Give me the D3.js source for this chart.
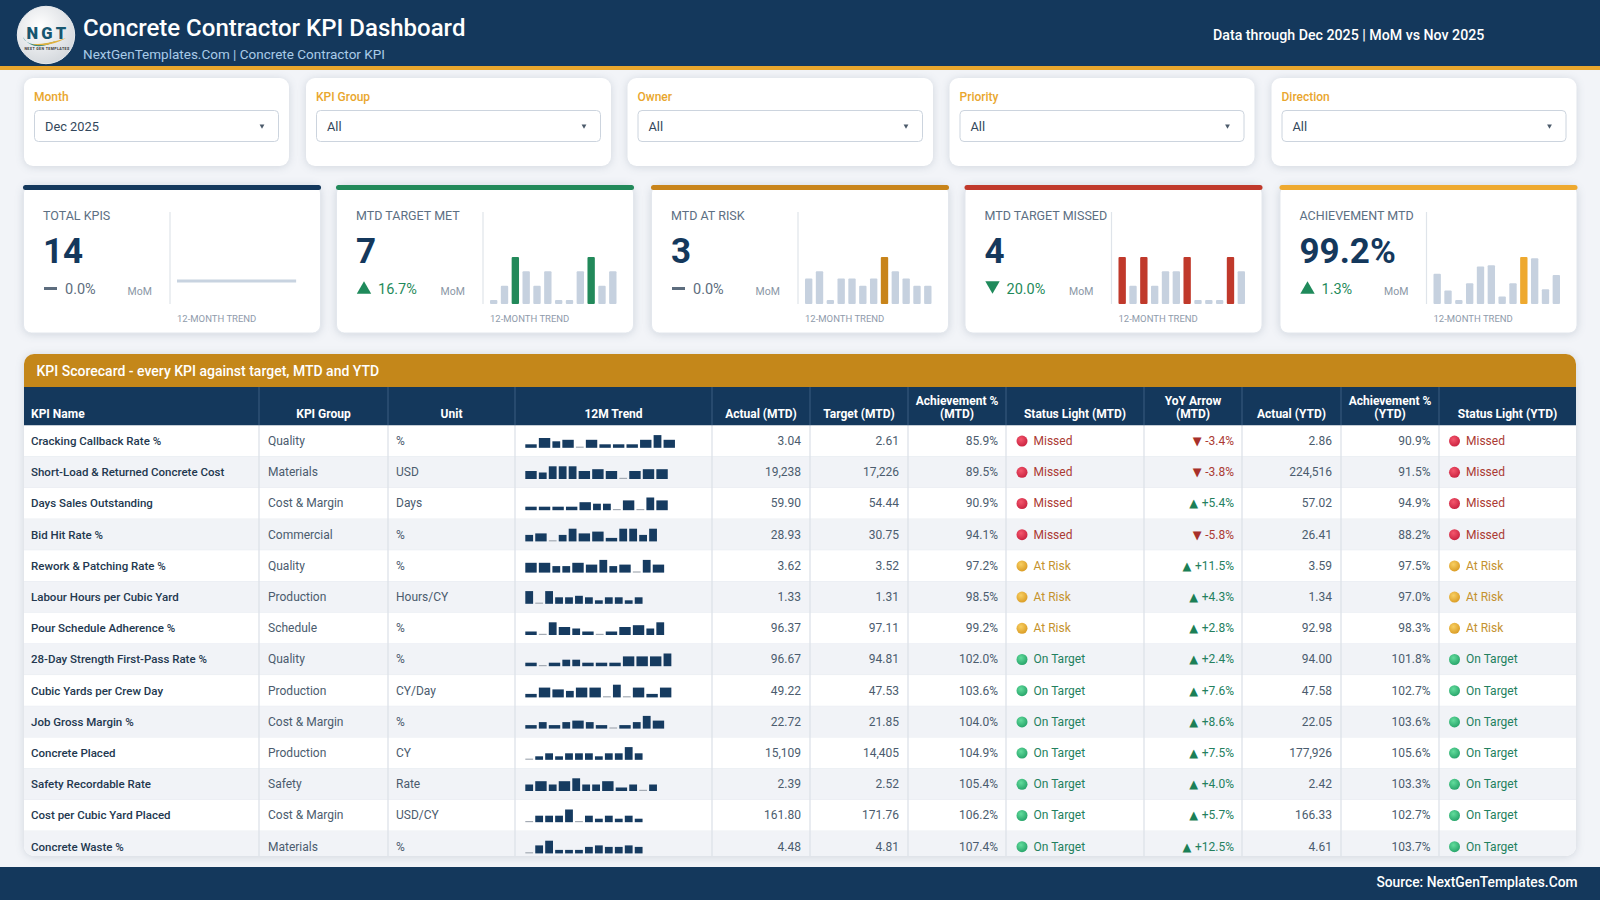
<!DOCTYPE html>
<html>
<head>
<meta charset="utf-8">
<style>
	html,body{ margin:0; padding:0; background:#f2f4f8; overflow:hidden; }
	svg{ display:block; font-family:Roboto,sans-serif; }
	.soft{ filter:drop-shadow(0 1px 4px rgba(40,60,90,.16)); }
</style>
</head>
<body>
<script src="https://d3js.org/d3.v7.min.js"></script>
<script>

// filters
var filterLabels = ["Month","KPI Group","Owner","Priority","Direction"];
var filterValues = ["Dec 2025","All","All","All","All"];

// kpi cards
var cardLabels = ["TOTAL KPIS","MTD TARGET MET","MTD AT RISK","MTD TARGET MISSED","ACHIEVEMENT MTD"];
var cardValues = ["14","7","3","4","99.2%"];
var cardDeltas = ["0.0%","16.7%","0.0%","20.0%","1.3%"];
var cardDirections = ["flat","up","flat","down","up"];
var totalTrend = [14,14,14,14,14,14,14,14,14,14,14,14];
var metTrend = [5,6,8,7,6,7,5,5,7,8,6,7];
var riskTrend = [4,5,1,4,4,3,4,7,5,4,3,3];
var missedTrend = [5,3,5,3,4,4,5,2,2,2,5,4];
var achievementTrend = [99.3,97.9,97.1,98.5,99.9,100.0,97.4,98.5,100.7,100.6,98.0,99.2];

// scorecard
var tableColumns = [["KPI Name"],["KPI Group"],["Unit"],["12M Trend"],["Actual (MTD)"],["Target (MTD)"],["Achievement %","(MTD)"],["Status Light (MTD)"],["YoY Arrow","(MTD)"],["Actual (YTD)"],["Achievement %","(YTD)"],["Status Light (YTD)"]];
var kpiNames = ["Cracking Callback Rate %","Short-Load & Returned Concrete Cost","Days Sales Outstanding","Bid Hit Rate %","Rework & Patching Rate %","Labour Hours per Cubic Yard","Pour Schedule Adherence %","28-Day Strength First-Pass Rate %","Cubic Yards per Crew Day","Job Gross Margin %","Concrete Placed","Safety Recordable Rate","Cost per Cubic Yard Placed","Concrete Waste %"];
var kpiGroups = ["Quality","Materials","Cost & Margin","Commercial","Quality","Production","Schedule","Quality","Production","Cost & Margin","Production","Safety","Cost & Margin","Materials"];
var kpiUnits = ["%","USD","Days","%","%","Hours/CY","%","%","CY/Day","%","CY","Rate","USD/CY","%"];
var actualMtd = [3.04,19238,59.90,28.93,3.62,1.33,96.37,96.67,49.22,22.72,15109,2.39,161.80,4.48];
var targetMtd = [2.61,17226,54.44,30.75,3.52,1.31,97.11,94.81,47.53,21.85,14405,2.52,171.76,4.81];
var achievementMtd = [85.9,89.5,90.9,94.1,97.2,98.5,99.2,102.0,103.6,104.0,104.9,105.4,106.2,107.4];
var statusMtd = ["Missed","Missed","Missed","Missed","At Risk","At Risk","At Risk","On Target","On Target","On Target","On Target","On Target","On Target","On Target"];
var yoyMtd = [-3.4,-3.8,5.4,-5.8,11.5,4.3,2.8,2.4,7.6,8.6,7.5,4.0,5.7,12.5];
var yoyDirection = ["down","down","up","down","up","up","up","up","up","up","up","up","up","up"];
var actualYtd = [2.86,224516,57.02,26.41,3.59,1.34,92.98,94.00,47.58,22.05,177926,2.42,166.33,4.61];
var achievementYtd = [90.9,91.5,94.9,88.2,97.5,97.0,98.3,101.8,102.7,103.6,105.6,103.3,102.7,103.7];
var statusYtd = ["Missed","Missed","Missed","Missed","At Risk","At Risk","At Risk","On Target","On Target","On Target","On Target","On Target","On Target","On Target"];
// sparkline levels, 1 (lowest) to 6
var kpiTrends = [
	[2,5,3,4,1,4,2,2,2,4,6,4],
	[4,3,6,6,6,4,5,4,1,4,5,5],
	[2,2,2,2,4,3,3,1,5,1,6,5],
	[3,4,1,3,6,4,5,2,6,6,3,6],
	[5,5,3,3,5,4,6,3,4,1,6,4],
	[6,1,6,3,3,4,3,2,3,3,2,3],
	[2,1,6,4,3,2,1,2,4,5,3,6],
	[2,1,2,3,3,2,2,2,5,5,5,6],
	[2,5,4,3,5,5,1,6,1,5,2,5],
	[2,3,2,3,4,3,2,1,2,3,6,4],
	[1,2,3,2,3,3,3,2,3,3,6,3],
	[3,5,3,5,6,3,3,5,2,3,1,3],
	[1,3,3,3,6,1,3,2,3,2,3,2],
	[1,4,6,2,2,2,3,4,3,3,4,3]
];
var compactTrends = [5,10,12,13];

var navy = "#14385c", gold = "#e9a62d", dark = "#c4871a", green = "#1f8a5b", red = "#c0392b";
var cardColors = [navy, "#22895a", "#c8841a", red, "#eea92f"];
var statusColors = {"Missed":"#ab3a33","At Risk":"#c4922e","On Target":"#23805e"};
var statusLights = {"Missed":"lightRed","At Risk":"lightAmber","On Target":"lightGreen"};

var paper = d3.select("body").append("svg").attr("width",1600).attr("height",900);
var defs = paper.append("defs");

function light(id, c0, c1) {
	var g = defs.append("radialGradient").attr("id",id).attr("cx","40%").attr("cy","35%").attr("r","70%");
	g.append("stop").attr("offset","0%").attr("stop-color",c0);
	g.append("stop").attr("offset","100%").attr("stop-color",c1);
}
light("lightRed","#f4566c","#c8213f");
light("lightAmber","#f8cf62","#d99a22");
light("lightGreen","#62dc9c","#25a268");
light("logoFill","#ffffff","#d3d7dc");

paper.append("rect").attr("width",1600).attr("height",900).attr("fill","#f2f4f8");

// HEADER
paper.append("rect").attr("width",1600).attr("height",66).attr("fill",navy);
paper.append("rect").attr("y",66).attr("width",1600).attr("height",4).attr("fill",gold);

var logo = paper.append("g").attr("transform","translate(46,35)");
logo.append("circle").attr("r",28.7).attr("fill","url(#logoFill)").attr("stroke","#e8ebee").attr("stroke-width",1);
logo.append("text").attr("text-anchor","middle").attr("x",2).attr("y",4).attr("font-size",16.5).attr("font-weight",900).attr("letter-spacing",3.2).attr("fill","#17566f").text("NGT");
logo.append("path").attr("d","M-23,2 C-20,11 -6,11 10,6 C-2,13 -16,14 -23,2Z").attr("fill","#1b7f84");
logo.append("path").attr("d","M-16,9 C-6,10 8,7 20,3 C8,10 -6,12 -16,9Z").attr("fill","#e2b13c");
logo.append("text").attr("text-anchor","middle").attr("x",1).attr("y",15).attr("font-size",3.6).attr("font-weight",700).attr("letter-spacing",0.4).attr("fill","#333").text("NEXT GEN TEMPLATES");

paper.append("text").attr("x",83).attr("y",35.5).attr("font-size",24).attr("font-weight",500).attr("fill","#fff").text("Concrete Contractor KPI Dashboard");
paper.append("text").attr("x",83).attr("y",58.5).attr("font-size",13.5).attr("fill","#a9cbe8").text("NextGenTemplates.Com | Concrete Contractor KPI");
paper.append("text").attr("x",1213).attr("y",40).attr("font-size",14.2).attr("font-weight",500).attr("fill","#fff").text("Data through Dec 2025 | MoM vs Nov 2025");

// FILTERS
var filterX = [24,306,627.5,949.5,1271.5], filterW = [265,305,305.5,305,305];
var filters = paper.selectAll(".filter").data(filterLabels).enter().append("g")
	.attr("class","filter")
	.attr("transform",function(d,i){ return "translate("+filterX[i]+",78)"; });
filters.append("rect").attr("class","soft").attr("width",function(d,i){ return filterW[i]; }).attr("height",88).attr("rx",9).attr("fill","#fff");
filters.append("text").attr("x",10).attr("y",23).attr("font-size",12).attr("font-weight",500).attr("fill",gold).text(function(d){ return d; });
filters.append("rect").attr("x",10.5).attr("y",32.5).attr("width",function(d,i){ return filterW[i]-21; }).attr("height",31).attr("rx",4)
	.attr("fill","#fff").attr("stroke","#ccd4de").attr("stroke-width",1);
filters.append("text").attr("x",21).attr("y",53).attr("font-size",12.8).attr("fill","#33475b").text(function(d,i){ return filterValues[i]; });
filters.append("path").attr("transform",function(d,i){ return "translate("+(filterW[i]-27)+",48) rotate(180)"; })
	.attr("d",d3.symbol().type(d3.symbolTriangle).size(10)).attr("fill","#4c5b6b");

// KPI CARDS
var cardX = [23,336,651,964.5,1279.5], cardW = 298;
var cardTrends = [totalTrend,metTrend,riskTrend,missedTrend,achievementTrend];
var xBar = d3.scaleBand().domain(d3.range(12)).range([0,126.5]).paddingInner(0.32);

var cards = paper.selectAll(".card").data(cardLabels).enter().append("g")
	.attr("class","card")
	.attr("transform",function(d,i){ return "translate("+cardX[i]+",185)"; });
cards.append("rect").attr("class","soft").attr("x",0.5).attr("width",cardW-1).attr("height",148).attr("rx",8).attr("fill","#fff").attr("stroke","#e3e7ed");
cards.append("rect").attr("width",cardW).attr("height",5).attr("rx",2.5).attr("fill",function(d,i){ return cardColors[i]; });
cards.append("text").attr("x",20).attr("y",35).attr("font-size",12.5).attr("fill","#5c6f83").text(function(d){ return d; });
cards.append("text").attr("x",20).attr("y",78).attr("font-size",35).attr("font-weight",700).attr("fill",navy).text(function(d,i){ return cardValues[i]; });
cards.append("text").attr("x",42).attr("y",109).attr("font-size",14.5)
	.attr("fill",function(d,i){ return cardDirections[i]=="flat" ? "#5d6d7e" : green; })
	.text(function(d,i){ return cardDeltas[i]; });
cards.append("text").attr("x",104.5).attr("y",110).attr("font-size",10.5).attr("fill","#8a97a6").text("MoM");
cards.append("line").attr("x1",147).attr("x2",147).attr("y1",27).attr("y2",119).attr("stroke","#dfe4ea").attr("stroke-width",1.2);
cards.append("text").attr("x",154).attr("y",137).attr("font-size",9.5).attr("fill","#8f9bab").text("12-MONTH TREND");

cards.each(function(d,i){
	var g = d3.select(this), dir = cardDirections[i], vals = cardTrends[i];
	if( dir == "flat" )
		g.append("rect").attr("x",21).attr("y",102).attr("width",13).attr("height",3).attr("fill","#5d6d7e");
	else
		g.append("path").attr("transform", dir=="up" ? "translate(28,104.5)" : "translate(28,100.5) rotate(180)")
			.attr("d",d3.symbol().type(d3.symbolTriangle).size(90)).attr("fill",green);

	var chart = g.append("g").attr("transform","translate(154,119)");
	var ext = d3.extent(vals);
	if( ext[0] == ext[1] ) {
		// constant series, drawn as a flat line
		chart.append("path").attr("fill","none").attr("stroke","#c8d3e0").attr("stroke-width",3)
			.attr("d",d3.line().x(function(v,k){ return xBar(k); }).y(-23)(vals));
		return;
	}
	var h = d3.scaleLinear().domain(ext).range([4,47]);
	chart.selectAll("rect").data(vals).enter().append("rect")
		.attr("x",function(v,k){ return xBar(k); })
		.attr("y",function(v){ return -h(v); })
		.attr("width",xBar.bandwidth())
		.attr("height",function(v){ return h(v); })
		.attr("rx",1)
		.attr("fill",function(v){ return v==ext[1] ? cardColors[i] : "#c6d1df"; });
});

// SCORECARD
var tableTop = 354, bandBottom = 387, headBottom = 425.5, panelBottom = 856;
var colEdges = [24,259,388,515,712,810,908,1006,1144,1242,1341,1439,1576];
var yRow = d3.scaleBand().domain(d3.range(kpiNames.length)).range([headBottom,headBottom+31.2*kpiNames.length]);

defs.append("clipPath").attr("id","panelClip").append("rect")
	.attr("x",colEdges[0]).attr("y",tableTop).attr("width",colEdges[12]-colEdges[0]).attr("height",panelBottom-tableTop).attr("rx",10);

paper.append("rect").attr("class","soft").attr("x",colEdges[0]).attr("y",tableTop).attr("width",colEdges[12]-colEdges[0]).attr("height",panelBottom-tableTop).attr("rx",10).attr("fill","#fff");
var table = paper.append("g").attr("clip-path","url(#panelClip)");

table.append("rect").attr("x",colEdges[0]).attr("y",tableTop).attr("width",1552).attr("height",bandBottom-tableTop).attr("fill",dark);
table.append("text").attr("x",36.5).attr("y",376).attr("font-size",14).attr("font-weight",500).attr("fill","#fff").text("KPI Scorecard - every KPI against target, MTD and YTD");
table.append("rect").attr("x",colEdges[0]).attr("y",bandBottom).attr("width",1552).attr("height",headBottom-bandBottom).attr("fill",navy);

// rows
var rows = table.selectAll(".row").data(kpiNames).enter().append("g")
	.attr("class","row")
	.attr("transform",function(d,i){ return "translate(0,"+yRow(i)+")"; });
rows.append("rect").attr("x",colEdges[0]).attr("width",1552).attr("height",yRow.bandwidth())
	.attr("fill",function(d,i){ return i%2 ? "#f1f3f7" : "#fff"; });
rows.append("line").attr("x1",colEdges[0]).attr("x2",colEdges[12]).attr("y1",yRow.bandwidth()).attr("y2",yRow.bandwidth()).attr("stroke","#e6eaf0");

// column separators
colEdges.slice(1,12).forEach(function(x){
	table.append("line").attr("x1",x).attr("x2",x).attr("y1",bandBottom).attr("y2",headBottom).attr("stroke","#3a5d80");
	table.append("line").attr("x1",x).attr("x2",x).attr("y1",headBottom).attr("y2",panelBottom).attr("stroke","#dde2e9").attr("stroke-width",1.3);
});

// header labels
tableColumns.forEach(function(lines,c){
	var left = c==0;
	var x = left ? colEdges[0]+7 : (colEdges[c]+colEdges[c+1])/2;
	var t = table.append("text").attr("text-anchor",left?"start":"middle").attr("font-size",12).attr("font-weight",700).attr("fill","#fff");
	lines.forEach(function(s,k){
		t.append("tspan").attr("x",x).attr("y",417.5-(lines.length-1-k)*13).text(s);
	});
});

function fmtValue(v,i) {
	return (kpiUnits[i]=="USD" || kpiUnits[i]=="CY") ? d3.format(",.0f")(v) : d3.format(".2f")(v);
}
var fmtPct = d3.format(".1f");
var midY = yRow.bandwidth()/2+4;

function textCol(x,anchor,fn,color,weight,size) {
	rows.append("text").attr("x",x).attr("y",midY).attr("text-anchor",anchor).attr("font-size",size||12)
		.attr("font-weight",weight||400).attr("fill",color).text(fn);
}
textCol(31,"start",function(d){ return d; },"#23384f",500,11.5);
textCol(268,"start",function(d,i){ return kpiGroups[i]; },"#4b5c6e");
textCol(396,"start",function(d,i){ return kpiUnits[i]; },"#4b5c6e");
textCol(801,"end",function(d,i){ return fmtValue(actualMtd[i],i); },"#4b5c6e");
textCol(899,"end",function(d,i){ return fmtValue(targetMtd[i],i); },"#4b5c6e");
textCol(998,"end",function(d,i){ return fmtPct(achievementMtd[i])+"%"; },"#4b5c6e");
textCol(1332,"end",function(d,i){ return fmtValue(actualYtd[i],i); },"#4b5c6e");
textCol(1430.5,"end",function(d,i){ return fmtPct(achievementYtd[i])+"%"; },"#4b5c6e");

function statusCol(cx,values) {
	rows.append("circle").attr("cx",cx).attr("cy",yRow.bandwidth()/2).attr("r",5.5)
		.attr("fill",function(d,i){ return "url(#"+statusLights[values[i]]+")"; });
	rows.append("text").attr("x",cx+11.5).attr("y",midY).attr("font-size",12)
		.attr("fill",function(d,i){ return statusColors[values[i]]; })
		.text(function(d,i){ return values[i]; });
}
statusCol(1022,statusMtd);
statusCol(1454.5,statusYtd);

// yoy arrows
var yoy = rows.append("text").attr("x",1234).attr("y",midY).attr("text-anchor","end").attr("font-size",12)
	.attr("fill",function(d,i){ return yoyDirection[i]=="up" ? "#23805e" : "#ab3a33"; });
yoy.append("tspan").attr("font-family","DejaVu Sans").attr("font-size",11.5)
	.attr("fill",function(d,i){ return yoyDirection[i]=="up" ? "#1b7f56" : "#a8302a"; })
	.text(function(d,i){ return yoyDirection[i]=="up" ? "\u25B2 " : "\u25BC "; });
yoy.append("tspan").text(function(d,i){ return d3.format("+.1f")(yoyMtd[i]).replace("\u2212","-")+"%"; });

// sparklines
var sparkHeight = d3.scaleLinear().domain([1,2,3,4,5,6]).range([1.2,3.5,6.5,8,9.8,12.7]);
function sparkWide(level,row) {
	return compactTrends.indexOf(row)<0 && (level==2 || level==4 || level==5);
}
rows.each(function(d,row){
	var x = 525.3;
	d3.select(this).append("g").selectAll("rect").data(kpiTrends[row]).enter().append("rect")
		.attr("x",function(v){ var cur=x; x += sparkWide(v,row) ? 13.55 : 9.95; return cur; })
		.attr("y",function(v){ return 22.3-sparkHeight(v); })
		.attr("width",function(v){ return sparkWide(v,row) ? 11.4 : 7.8; })
		.attr("height",sparkHeight)
		.attr("fill",function(v){ return v==1 ? "#a4abb4" : "#163b60"; });
});

// FOOTER
paper.append("rect").attr("y",867).attr("width",1600).attr("height",33).attr("fill",navy);
paper.append("text").attr("x",1577.5).attr("y",887).attr("text-anchor","end").attr("font-size",13.8).attr("font-weight",500).attr("fill","#fff").text("Source: NextGenTemplates.Com");

</script>
</body>
</html>
